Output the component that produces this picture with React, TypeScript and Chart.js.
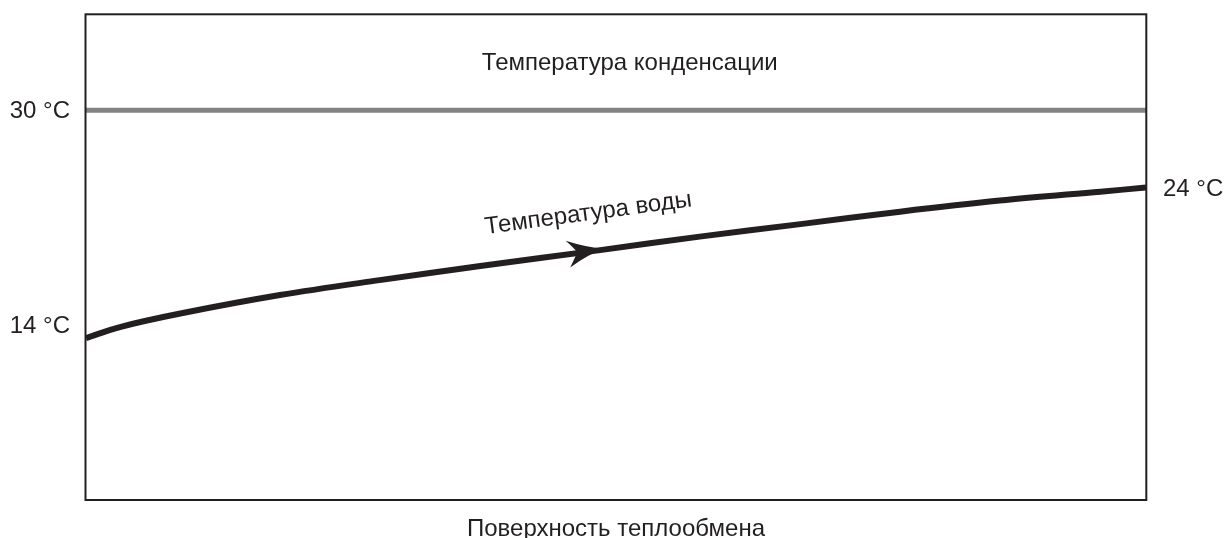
import React, { useEffect, useRef } from "react";
import { Chart, registerables } from "chart.js";

Chart.register(...registerables);

// Position along the heat-exchange surface (0 = inlet, 100 = outlet)
const surfacePos = [0, 3.2, 8.9, 18.3, 27.7, 37.2, 48.5, 57.9, 67.4, 76.8, 86.2, 95.7, 100];
// Water temperature along the surface (diagram units, °C-like)
const waterTemp = [12.46, 13.31, 14.35, 15.77, 16.92, 18.0, 19.23, 20.27, 21.23, 22.19, 23.04, 23.73, 24.04];
// Condensation temperature (constant)
const condPos = [0, 100];
const condTemp = [30, 30];

const condLabel = "Температура конденсации";
const waterLabel = "Температура воды";
const xTitle = "Поверхность теплообмена";
const tickLabels = ["30 °C", "14 °C", "24 °C"];

const FONT = '24px "Liberation Sans", Arial, sans-serif';
const INK = "#231f20";

const diagramPlugin = {
  id: "diagram",
  afterDatasetsDraw(chart: any) {
    const { ctx, chartArea: a, scales } = chart;
    const xs = scales.x;
    const ys = scales.y;
    ctx.save();

    // arrow on the water curve
    const i = 6;
    const px = xs.getPixelForValue(surfacePos[i]);
    const py = ys.getPixelForValue(waterTemp[i]);
    const p0x = xs.getPixelForValue(surfacePos[i - 1]);
    const p0y = ys.getPixelForValue(waterTemp[i - 1]);
    const p1x = xs.getPixelForValue(surfacePos[i + 1]);
    const p1y = ys.getPixelForValue(waterTemp[i + 1]);
    const ang = Math.atan2(p1y - p0y, p1x - p0x);
    ctx.translate(px + 1, py - 1);
    ctx.rotate(ang);
    ctx.fillStyle = INK;
    ctx.beginPath();
    ctx.moveTo(3, 0);
    ctx.quadraticCurveTo(-14, -3.5, -34, -13);
    ctx.quadraticCurveTo(-27, -5, -24, 0);
    ctx.quadraticCurveTo(-27, 5, -33, 14);
    ctx.quadraticCurveTo(-14, 3.5, 3, 0);
    ctx.closePath();
    ctx.fill();

    // water label along curve
    ctx.font = FONT;
    ctx.textAlign = "center";
    ctx.textBaseline = "middle";
    ctx.fillText(waterLabel, -8, -37);
    ctx.restore();

    ctx.save();
    ctx.font = FONT;
    ctx.fillStyle = INK;
    ctx.textBaseline = "middle";

    // condensation label
    ctx.textAlign = "center";
    ctx.fillText(condLabel, xs.getPixelForValue(51.3), ys.getPixelForValue(condTemp[0]) - 47);

    // temperature labels
    ctx.textAlign = "right";
    ctx.fillText(tickLabels[0], a.left - 16, ys.getPixelForValue(condTemp[0]) + 1);
    ctx.fillText(tickLabels[1], a.left - 16, ys.getPixelForValue(waterTemp[0]) - 12);
    ctx.textAlign = "left";
    ctx.fillText(tickLabels[2], a.right + 17, ys.getPixelForValue(waterTemp[waterTemp.length - 1]) + 2);

    // x title
    ctx.textAlign = "center";
    ctx.textBaseline = "alphabetic";
    ctx.fillText(xTitle, (a.left + a.right) / 2, a.bottom + 36);

    // frame
    ctx.strokeStyle = INK;
    ctx.lineWidth = 2;
    ctx.strokeRect(a.left - 0.5, a.top + 0.3, a.right - a.left + 0.8, a.bottom - a.top - 0.3);
    ctx.restore();
  },
};

export default function App() {
  const ref = useRef<HTMLCanvasElement | null>(null);
  useEffect(() => {
    if (!ref.current) return;
    const chart = new Chart(ref.current, {
      type: "line",
      data: {
        datasets: [
          {
            label: condLabel,
            data: condPos.map((x, k) => ({ x, y: condTemp[k] })),
            borderColor: "#838383",
            borderWidth: 5,
            pointRadius: 0,
            tension: 0,
          },
          {
            label: waterLabel,
            data: surfacePos.map((x, k) => ({ x, y: waterTemp[k] })),
            borderColor: INK,
            borderWidth: 6,
            pointRadius: 0,
            tension: 0.35,
            borderCapStyle: "butt",
            borderJoinStyle: "round",
          },
        ],
      },
      options: {
        animation: false,
        responsive: true,
        maintainAspectRatio: false,
        layout: { padding: { left: 86, right: 78, top: 14, bottom: 38 } },
        plugins: { legend: { display: false }, tooltip: { enabled: false } },
        scales: {
          x: { type: "linear", min: 0, max: 100, display: false },
          y: { type: "linear", min: 0, max: 37.4, display: false },
        },
      },
      plugins: [diagramPlugin],
    });
    return () => chart.destroy();
  }, []);
  return (
    <div style={{ position: "absolute", left: 0, top: 0, width: 1224, height: 538, background: "#fff" }}>
      <canvas ref={ref} />
    </div>
  );
}
